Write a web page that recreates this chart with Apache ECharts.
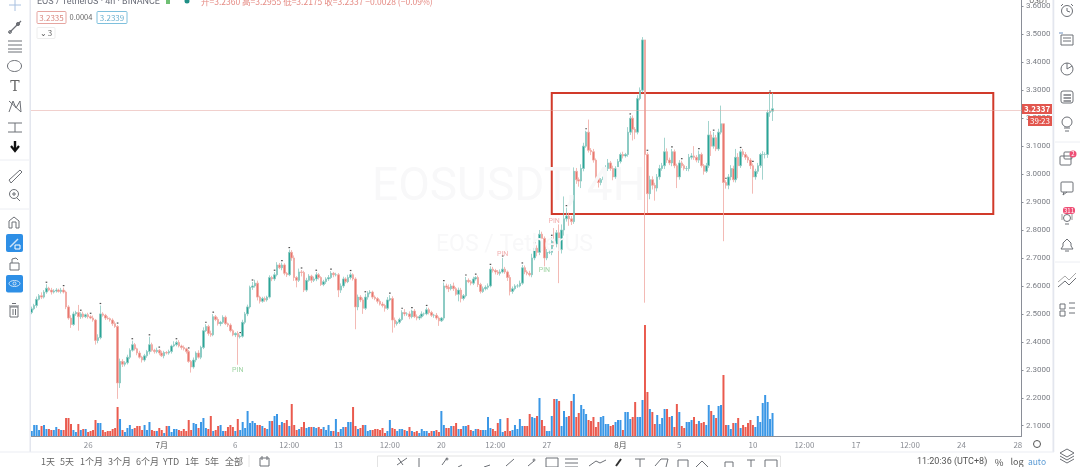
<!DOCTYPE html>
<html><head><meta charset="utf-8">
<style>html,body{margin:0;padding:0;background:#fff;overflow:hidden}#c{width:1080px;height:467px;filter:blur(0.35px)}</style>
<script src="https://cdn.jsdelivr.net/npm/echarts@6/dist/echarts.min.js"></script>
</head><body><div id="c"></div>
<script>
const firstOpen = 2.505;
const closes = [
2.518,2.53,2.552,2.565,2.56,2.578,2.592,2.585,2.578,2.582,
2.585,2.58,2.585,2.578,2.525,2.485,2.462,2.50,2.505,2.49,
2.50,2.49,2.497,2.49,2.485,2.478,2.405,2.415,2.50,2.495,
2.485,2.483,2.478,2.465,2.455,2.253,2.33,2.32,2.325,2.345,
2.37,2.39,2.375,2.36,2.345,2.335,2.35,2.365,2.39,2.37,
2.365,2.37,2.36,2.35,2.362,2.36,2.365,2.385,2.39,2.398,
2.385,2.38,2.375,2.365,2.33,2.31,2.335,2.36,2.345,2.38,
2.44,2.455,2.43,2.425,2.49,2.48,2.465,2.47,2.488,2.465,
2.46,2.44,2.425,2.43,2.418,2.42,2.47,2.50,2.525,2.595,
2.60,2.61,2.56,2.545,2.555,2.55,2.56,2.63,2.625,2.64,
2.675,2.665,2.675,2.645,2.64,2.72,2.70,2.63,2.62,2.65,
2.648,2.585,2.62,2.635,2.62,2.625,2.64,2.63,2.605,2.615,
2.625,2.63,2.645,2.64,2.64,2.585,2.60,2.625,2.615,2.63,
2.64,2.625,2.525,2.56,2.55,2.52,2.56,2.575,2.578,2.56,
2.555,2.545,2.535,2.53,2.52,2.55,2.555,2.478,2.465,2.47,
2.48,2.505,2.50,2.50,2.49,2.51,2.49,2.485,2.49,2.50,
2.50,2.515,2.505,2.495,2.495,2.485,2.475,2.485,2.60,2.595,
2.59,2.60,2.59,2.57,2.585,2.555,2.565,2.62,2.615,2.61,
2.625,2.63,2.605,2.58,2.59,2.595,2.60,2.66,2.655,2.65,
2.645,2.65,2.66,2.65,2.63,2.58,2.59,2.60,2.60,2.61,
2.665,2.65,2.645,2.64,2.70,2.735,2.72,2.785,2.77,2.70,
2.72,2.72,2.76,2.75,2.79,2.73,2.80,2.84,2.85,2.84,
2.83,3.01,2.98,2.975,3.02,3.10,3.15,3.085,3.08,3.05,
2.99,2.97,2.98,2.99,3.02,3.04,3.02,2.99,3.02,3.045,
3.07,3.065,3.07,3.15,3.20,3.16,3.15,3.27,3.30,3.48,
3.07,2.93,2.98,2.96,2.95,2.99,3.02,3.03,3.08,3.05,
3.04,3.08,3.03,2.99,3.04,3.03,3.02,3.02,3.06,3.065,
3.06,3.05,3.07,3.03,3.01,3.03,3.14,3.10,3.13,3.09,
3.15,3.18,2.97,2.96,2.99,3.02,2.98,3.06,3.03,3.08,
3.07,3.06,3.05,3.03,2.99,3.01,3.03,3.07,3.07,3.07,
3.22,3.225,3.2337];
// Wick lengths above / below the candle body (thousandths of a USDT)
const wickUp = [
8,6,10,6,12,7,14,5,8,6, 7,5,8,9,5,6,10,8,6,27, 6,8,4,7,5,9,4,12,30,6, 5,7,4,6,8,5,10,8,6,9,
7,14,6,4,8,5,7,6,28,7, 5,9,4,8,6,5,7,5,12,6, 8,5,7,4,6,5,9,6,10,6, 12,8,6,10,9,6,8,5,7,6,
4,6,5,4,8,6,9,7,8,6, 14,12,9,5,6,7,5,8,6,9, 10,7,8,6,5,10,8,9,5,12, 7,6,9,7,5,8,9,6,5,7,
6,9,8,5,7,6,9,8,6,10, 8,5,6,9,7,8,12,6,7,5, 6,5,7,8,6,10,12,8,9,5, 6,8,12,6,9,5,7,8,6,9,
5,8,7,6,5,8,6,4,12,8, 10,7,12,6,9,8,6,12,7,6, 8,5,7,6,8,7,9,10,8,6, 7,9,40,8,5,10,8,6,7,9,
10,8,6,9,15,12,10,15,9,7, 12,8,14,47,10,30,20,80,30,12, 10,14,12,8,15,12,5,45,8,10, 6,8,6,9,12,14,7,10,8,9,
7,10,6,18,8,10,8,12,10,10, 0,8,14,12,9,10,13,10,50,12, 9,10,8,7,10,8,6,9,12,10, 35,8,14,7,6,10,50,14,20,10,
12,65,0,8,10,12,10,30,15,8, 10,9,6,7,8,9,10,6,12,8, 10,65,57];
const wickDown = [
6,5,8,4,7,5,6,4,9,5, 6,4,7,5,8,6,12,5,7,50, 8,6,5,7,4,6,15,10,6,5, 7,4,6,8,5,57,18,10,8,6,
7,5,6,8,5,9,6,7,10,5, 7,6,8,4,9,5,6,7,4,6, 5,8,6,7,5,20,6,8,5,7, 6,5,8,7,5,6,7,9,6,5,
7,6,5,8,100,6,5,7,8,6, 9,6,12,8,5,7,6,5,8,7, 6,5,9,7,8,5,10,12,25,6, 14,7,6,5,9,6,8,7,5,6,
8,7,5,9,6,25,10,7,6,5, 7,6,80,12,8,20,6,9,5,7, 6,8,5,7,12,6,5,45,14,7, 6,5,8,7,9,6,5,8,7,6,
8,5,7,6,9,6,18,4,8,7, 12,6,8,5,25,14,7,6,5,8, 7,6,9,7,5,6,8,5,7,9, 6,8,5,7,12,14,8,6,7,5,
6,8,7,6,9,8,14,10,7,30, 8,6,10,9,12,120,14,20,10,25, 12,8,15,20,25,10,6,8,12,9, 14,18,10,12,8,9,8,12,7,8,
7,9,6,8,10,40,25,8,6,8, 530,70,20,15,45,12,10,8,12,10, 8,12,9,40,10,8,7,9,10,8, 9,8,10,7,12,6,8,35,9,8,
7,8,210,12,14,12,9,10,45,8, 8,9,10,12,60,10,9,8,90,14, 12,15,35];
const volumes = [
5,11,11,6,10,11,7,7,6,6,9,7,6,6,18,18,12,6,4,12,6,7,7,4,5,6,16,13,13,6,4,5,5,7,8,29,17,6,4,8,11,7,8,10,10,6,11,6,
14,6,5,5,8,6,3,10,10,4,7,7,6,5,7,5,16,6,13,12,8,14,18,8,7,20,5,6,10,11,5,5,9,11,9,5,17,6,14,8,25,13,15,13,11,11,10,8,7,15,15,20,22,11,14,13,16,10,32,11,6,7,9,14,8,9,9,9,8,9,7,9,6,11,5,5,17,4,7,9,9,14,14,29,10,7,8,11,11,5,6,6,7,7,6,8,3,5,16,8,7,5,
7,7,6,5,9,5,4,5,3,7,5,5,3,5,5,6,4,25,11,8,8,10,10,13,7,7,10,10,11,6,5,7,7,6,6,6,19,8,7,5,13,17,4,5,18,5,6,11,7,17,10,10,10,22,19,18,20,38,16,10,5,5,20,37,37,35,10,25,19,20,35,42,19,23,31,27,22,16,15,19,9,14,19,20,12,12,10,11,14,16,16,6,24,24,17,19,34,19,19,36,
111,44,27,24,12,21,12,18,27,27,19,20,9,32,24,10,8,14,14,16,19,12,15,13,14,11,31,25,21,18,30,31,61,
11,11,7,13,13,18,8,11,9,13,16,11,9,20,14,33,41,34,17,23];
const tickLabels = ['26','7月','6','12:00','13','12:00','20','12:00','27','8月','5','10','12:00','17','12:00','24','28'];
const tickSlots  = [23,53,83,105,125,146,167,189,210,240,264,294,315,336,358,379,402];
const slotCount = 404;
const priceTicks = [2.1,2.2,2.3,2.4,2.5,2.6,2.7,2.8,2.9,3.0,3.1,3.2,3.3,3.4,3.5,3.6];
const lastPrice = 3.2337;
const boxSlots = [212,392];
const boxPrices = [3.29,2.857];
const pinGreen = [[84,2.30],[209,2.657]];
const pinRed = [[192,2.714],[213,2.832]];
const dotSlots = [6,13,20,24,28,35,41,48,52,59,64,71,74,85,90,99,102,105,110,116,122,130,136,146,151,155,161,168,177,181,187,192,200,205,212,218,226,244,251,261,265,272,278,283,289,294,301];

const cats = Array.from({length:slotCount},()=>'' );
tickSlots.forEach((s,i)=>{cats[s]=tickLabels[i];});
const opens = closes.map((c,i)=>i?closes[i-1]:firstOpen);
const candle = closes.map((c,i)=>{
  const o=opens[i],hi=Math.max(o,c)+wickUp[i]/1000,lo=Math.min(o,c)-wickDown[i]/1000;
  return [o,c,lo,hi];
});
const volData = volumes.map((v,i)=>({value:v,itemStyle:{color:closes[i]>=opens[i]?'#3a97e6':'#ea5a4e'}}));
const dots = dotSlots.map(s=>[s,candle[s][3]]);

// --- chrome helpers
const INK='#6d7076';
const L=(pts,o={})=>({type:'polyline',silent:true,z:50,shape:{points:pts},style:{fill:null,stroke:o.c||INK,lineWidth:o.w||1}});
const R=(x,y,w,h,o={})=>({type:'rect',silent:true,z:o.z||50,shape:{x,y,width:w,height:h,r:o.r||0},style:{fill:o.f||null,stroke:o.c===undefined?INK:o.c,lineWidth:o.w||1}});
const C=(x,y,r,o={})=>({type:'circle',silent:true,z:50,shape:{cx:x,cy:y,r},style:{fill:o.f||null,stroke:o.c===undefined?INK:o.c,lineWidth:o.w||1}});
const T=(x,y,s,o={})=>({type:'text',silent:true,z:o.z||60,x,y,style:{text:s,fill:o.c||'#666',font:(o.b?'bold ':'')+(o.s||9)+'px '+(o.f||'"Noto Sans CJK SC",Roboto,sans-serif'),align:o.a||'left',verticalAlign:'middle'}});
const g=[
 // panels
 R(29.5,0,1.5,452,{f:'#e3e6ee',c:null}),R(1052.5,0,1.8,452,{f:'#e3e6ee',c:null}),
 R(0,451.5,1054,1,{f:'#eceef3',c:null}),
 L([[0,160],[29,160]],{c:'#eceef3'}),L([[0,209],[29,209]],{c:'#eceef3'}),
 L([[1055,142],[1080,142]],{c:'#eceef3'}),L([[1055,262],[1080,262]],{c:'#eceef3'}),
 // watermark
 T(372,188,'EOSUSDT, 4H',{s:46,c:'#f8f8f9',z:0,f:'Roboto,sans-serif'}),
 T(436,245,'EOS / TetherUS',{s:23,c:'#f8f8f9',z:0,f:'Roboto,sans-serif'}),
 // header
 T(37,2,'EOS / TetherUS · 4h · BINANCE',{s:9,c:'#6a6d78',f:'Roboto,sans-serif'}),
 R(166,-2,4,6,{f:'#6fbf73',c:null}),C(187,1,2.5,{f:'#1f8f86',c:null}),
 T(201,2,'开=3.2360 高=3.2955 低=3.2175 收=3.2337 −0.0028 (−0.09%)',{s:8.5,c:'#e58b84'}),
 R(37,11.5,29,12,{c:'#e6a5a0',r:1}),T(51.5,17.5,'3.2335',{s:8,c:'#d98880',a:'center'}),
 T(81,17.5,'0.0004',{s:7.5,c:'#666',a:'center'}),
 R(97,11.5,30,12,{c:'#7ec0dd',r:1}),T(112,17.5,'3.2339',{s:8,c:'#6ab0d0',a:'center'}),
 R(37,27.5,18,11,{c:'#eeeeee',r:1}),T(43,32.5,'⌄',{s:8,c:'#555',a:'center'}),T(50,33,'3',{s:8,c:'#666',a:'center'}),
 // axis extras
 T(1029,0,'USDT',{s:7.5,c:'#666',a:'left'}),
 R(1022,104,30,10,{f:'#e2564e',c:null,z:55}),T(1037,109,'3.2337',{s:8,c:'#fff',a:'center',b:true}),
 R(1028,116,24,10,{f:'#e2564e',c:null,z:55}),T(1040,121,'39:23',{s:8,c:'#fff',a:'center'}),
 C(1037,444,3.5,{c:'#555'}),
 // left toolbar
 L([[15,-1],[15,11]],{c:'#a8c0e0'}),L([[9,5],[21,5]],{c:'#a8c0e0'}),
 L([[9,33],[21,21]],{w:1.2}),C(18,24,1.6,{f:INK}),C(10,32,1.4),
 L([[8,41],[22,41]]),L([[8,45],[22,45]]),L([[8,49],[22,49]]),L([[8,52],[22,52]]),
 {type:'ellipse',silent:true,z:50,shape:{cx:14.5,cy:66,rx:7,ry:5.5},style:{fill:null,stroke:INK}},
 T(15,87,'T',{s:14,c:'#666',a:'center',f:'"DejaVu Serif",serif'}),
 L([[9,112],[13,101],[16,108],[20,101],[21,112],[9,101]]),
 L([[8,123],[22,123]]),L([[8,132],[22,132]]),L([[15,123],[15,132]]),
 L([[15,141],[15,149]],{c:'#111',w:2.4}),L([[11,146],[15,151],[19,146]],{c:'#111',w:2.2}),
 L([[9,180],[20,170],[22,172],[11,183],[9,180]]),
 C(14,194,4.5),L([[17,198],[20,201]]),L([[12,194],[16,194]]),L([[14,192],[14,196]]),
 L([[9,228],[9,221],[14,217],[19,221],[19,228],[16,228],[16,222],[12,222],[12,228],[9,228]]),
 R(6,234,17,18,{f:'#2e8fe6',c:null,r:2}),L([[10,247],[18,239]],{c:'#cfe4f8',w:1.5}),
 R(15,245,5,4,{c:'#fff'}),
 R(10,263,9,7,{}),L([[12,263],[12,259],[16,258],[18,260]]),
 R(6,275,17,17.5,{f:'#2e8fe6',c:null,r:2}),{type:'ellipse',silent:true,z:51,shape:{cx:14.5,cy:283.5,rx:5.5,ry:3},style:{fill:null,stroke:'#cfe4f8'}},C(14.5,283.5,1.5,{c:'#cfe4f8'}),
 R(10,307,8,10,{}),L([[9,306],[19,306]]),L([[12,303.5],[16,303.5]]),L([[13,309],[13,315]]),L([[15.5,309],[15.5,315]]),
 // right toolbar
 C(1067,11,5.5),L([[1067,8],[1067,11],[1070,12]]),L([[1061,6],[1063,4]]),L([[1073,6],[1071,4]]),
 R(1061,35,12,10),L([[1063,38],[1071,38]]),L([[1063,41],[1071,41]]),L([[1059,33],[1063,33]],{c:'#6a8fbf'}),
 C(1067,69,6),L([[1067,63],[1067,69],[1072,66]]),
 R(1061,91,12,12,{r:2}),L([[1063.5,95],[1071,95]],{w:1.4}),L([[1063.5,98],[1071,98]],{w:1.4}),L([[1063.5,101],[1071,101]],{w:1.4}),
 C(1067,122,5),L([[1064,128],[1070,128]]),L([[1065,131],[1069,131]]),
 R(1060,156,11,9,{r:1}),R(1064,152,8,7,{r:1}),C(1073,154,3.5,{f:'#ef4e75',c:null}),T(1073,154,'2',{s:6,c:'#fff',a:'center'}),
 R(1061,182,12,10,{r:1}),L([[1064,192],[1063,195],[1067,192]]),
 C(1067,218,3.5),L([[1062,214],[1062,220]],{c:'#999'}),L([[1072,214],[1072,220]],{c:'#999'}),L([[1065,224],[1069,224]]),
 R(1063,207,12,7,{f:'#ef4e75',c:null,r:3,z:51}),T(1069,210.5,'311',{s:6,c:'#fff',a:'center'}),
 L([[1061,249],[1063,246],[1063,243],[1067,239],[1071,243],[1071,246],[1073,249],[1061,249]]),L([[1065,251],[1069,251]]),
 L([[1058,287],[1065,281],[1069,285],[1076,278]]),L([[1058,282],[1065,276],[1069,280],[1076,273]],{c:'#aaa'}),
 R(1060,304,5,5),R(1060,311,5,5),L([[1069,303],[1075,303]]),L([[1069,308],[1075,308]]),L([[1069,313],[1075,313]]),
 L([[1060,453],[1067,449],[1074,453],[1067,457],[1060,453]]),L([[1060,456],[1067,460],[1074,456]]),L([[1060,459],[1067,463],[1074,459]]),
 // bottom bar
 T(41,462,'1天'),T(60,462,'5天'),T(80,462,'1个月'),T(108,462,'3个月'),T(136,462,'6个月'),T(163,462,'YTD'),T(185,462,'1年'),T(205,462,'5年'),T(225,462,'全部'),
 L([[249,455],[249,467]],{c:'#e6e6e6'}),
 R(260,458,9,8),L([[262,456],[262,460]]),L([[267,456],[267,460]]),
 R(377.5,456,403,14,{c:'#e3e3e3'}),
 L([[397,465],[407,458]]),L([[403,465],[398,458]]),L([[419,458],[419,467]]),L([[442,465],[447,458]]),C(447,459,1),
 L([[458,467],[462,465]]),L([[484,467],[490,465]]),L([[506,466],[514,459]]),L([[528,466],[534,461]]),C(534,460,1),
 R(546,458,12,9),L([[565,459],[578,459]]),L([[565,463],[578,463]]),L([[565,467],[578,467]]),
 L([[589,466],[596,461],[600,463],[606,460]]),
 L([[616,466],[621,459]],{w:2,c:'#333'}),L([[640,459],[640,467]]),L([[635,459],[645,459]]),
 L([[655,466],[661,459],[668,459],[666,467]]),R(678,460,10,8),L([[696,467],[702,461],[708,467]]),
 L([[725,467],[725,462],[733,462],[733,467]]),L([[747,460],[755,460]]),L([[751,460],[751,467]]),
 R(765,460,12,8),
 T(917,462,'11:20:36 (UTC+8)',{s:9,c:'#555',f:'Roboto,sans-serif'}),L([[985,456],[985,467]],{c:'#e6e6e6'}),
 T(999,462,'%',{s:9.5,c:'#555',a:'center'}),T(1017,462,'log',{s:9,c:'#555',a:'center'}),T(1037,462,'auto',{s:8.5,c:'#5b9bd5',a:'center'})
];

const chart = echarts.init(document.getElementById('c'),null,{renderer:'canvas'});
chart.setOption({
 animation:false,
 backgroundColor:'#fff',
 grid:{left:30.5,right:58.5,top:0,bottom:31,containLabel:false},
 graphic:{elements:g},
 tooltip:{show:false},
 xAxis:{type:'category',data:cats,boundaryGap:true,
  axisLine:{lineStyle:{color:'#8a8e97',width:1}},
  axisTick:{alignWithLabel:true,length:2,lineStyle:{color:'#8a8e97'},interval:(i,v)=>v!==''},
  axisLabel:{interval:(i,v)=>v!=='',hideOverlap:false,margin:5,color:'#8a8d94',fontSize:8,fontFamily:'"Noto Sans CJK SC",Roboto,sans-serif',
   formatter:v=>v.endsWith('月')?'{m|'+v+'}':v,rich:{m:{color:'#555',fontSize:8}}},
  splitLine:{show:false}},
 yAxis:[
  {type:'value',position:'right',min:2.0632,max:3.6227,scale:true,
   axisLine:{show:true,lineStyle:{color:'#8a8e97'}},
   axisTick:{show:true,length:2,lineStyle:{color:'#8a8e97'},customValues:priceTicks},
   axisLabel:{color:'#7b7e85',fontSize:8,margin:4.5,fontFamily:'Roboto,sans-serif',customValues:priceTicks,formatter:v=>v.toFixed(4)},
   splitLine:{show:false}},
  {type:'value',show:false,min:0,max:436,splitLine:{show:false}}
 ],
 series:[
  {type:'bar',name:'Volume',yAxisIndex:1,data:volData,barWidth:2,barGap:'-100%',z:1,silent:true},
  {type:'candlestick',name:'EOSUSDT',data:candle,barWidth:2,z:3,silent:true,
   itemStyle:{color:'#2aa597',color0:'#e9766d',borderColor:'#8cc9c1',borderColor0:'#f0a8a2',borderWidth:0.8},
   markLine:{silent:true,symbol:'none',animation:false,label:{show:false},
    lineStyle:{color:'#e2a09a',type:'dotted',width:1},data:[{yAxis:lastPrice}]},
   markArea:{silent:true,animation:false,
    itemStyle:{color:'rgba(0,0,0,0)',borderColor:'#d13a2a',borderWidth:2},
    data:[[{xAxis:boxSlots[0],yAxis:boxPrices[0]},{xAxis:boxSlots[1],yAxis:boxPrices[1]}]]}},
  {type:'scatter',name:'Marks',data:dots,symbol:'rect',symbolSize:[1.6,1.2],symbolOffset:[0,-2],itemStyle:{color:'#222'},z:4,silent:true},
  {type:'scatter',name:'PIN up',data:pinGreen,symbolSize:0,z:4,silent:true,label:{show:true,position:'inside',formatter:'PIN',color:'#86c98c',fontSize:7,fontFamily:'Roboto,sans-serif'}},
  {type:'scatter',name:'PIN down',data:pinRed,symbolSize:0,z:4,silent:true,label:{show:true,position:'inside',formatter:'PIN',color:'#ef9a9a',fontSize:7,fontFamily:'Roboto,sans-serif'}}
 ]
});
</script></body></html>
